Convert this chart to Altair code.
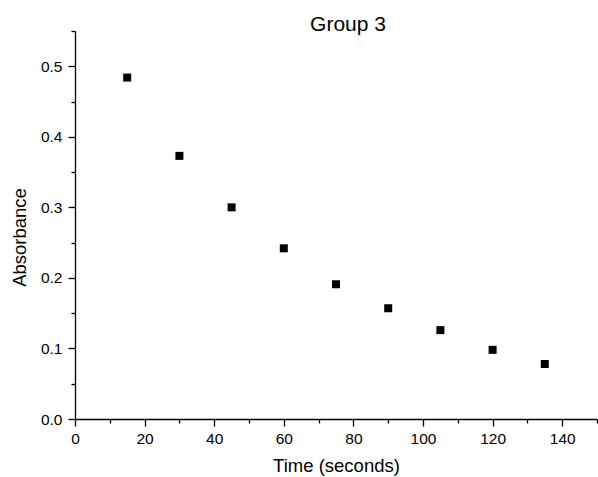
import altair as alt
import pandas as pd

time_s = [15, 30, 45, 60, 75, 90, 105, 120, 135]
absorbance = [0.484, 0.373, 0.300, 0.242, 0.191, 0.157, 0.126, 0.098, 0.078]

x_major = [0, 20, 40, 60, 80, 100, 120, 140]
x_minor = [10, 30, 50, 70, 90, 110, 130, 150]
y_major = [0.0, 0.1, 0.2, 0.3, 0.4, 0.5]
y_minor = [0.05, 0.15, 0.25, 0.35, 0.45, 0.55]

df = pd.DataFrame({"t": time_s, "a": absorbance})

FONT = "Liberation Sans"

xscale = alt.Scale(domain=[0, 150], nice=False, zero=True)
yscale = alt.Scale(domain=[0, 0.55], nice=False, zero=True)

common = dict(domainColor="black", tickColor="black", domainWidth=1.3, tickWidth=1.3,
              grid=False, labelFont=FONT, titleFont=FONT, labelColor="black", titleColor="black")

points = alt.Chart(df).mark_square(size=64, color="black", opacity=1).encode(
    x=alt.X("t:Q", scale=xscale,
            axis=alt.Axis(values=x_major, orient="bottom", tickSize=7, labelPadding=5,
                          labelFontSize=15.5, format="d", title="Time (seconds)",
                          titleFontSize=18.5, titleFontWeight="normal", titlePadding=10,
                          labelFlush=False, **common)),
    y=alt.Y("a:Q", scale=yscale,
            axis=alt.Axis(values=y_major, orient="left", tickSize=7, labelPadding=6,
                          labelFontSize=15.5, format=".1f", title="Absorbance",
                          titleFontSize=18.5, titleFontWeight="normal",
                          titleX=-50, titleY=206, titleBaseline="alphabetic",
                          titleAlign="center", titleAngle=270,
                          labelFlush=False, **common)),
)

minor = alt.Chart(df).mark_point(opacity=0).encode(
    x=alt.X("t:Q", scale=xscale,
            axis=alt.Axis(values=x_minor, orient="bottom", tickSize=4, labels=False,
                          domain=False, title="", **common)),
    y=alt.Y("a:Q", scale=yscale,
            axis=alt.Axis(values=y_minor, orient="left", tickSize=4, labels=False,
                          domain=False, title="", **common)),
)

chart = alt.layer(points, minor).resolve_axis(x="independent", y="independent").properties(
    width=522,
    height=388,
    padding={"left": 75, "top": 31, "right": 1, "bottom": 58},
    autosize=alt.AutoSizeParams(type="none"),
    title=alt.TitleParams("Group 3", font=FONT, fontSize=21, fontWeight="normal",
                          color="black", anchor="middle", dx=12, dy=22, offset=0,
                          baseline="alphabetic"),
    background="white",
).configure_view(stroke=None)

chart.save("out.html", embed_options={"renderer": "svg", "actions": False})
